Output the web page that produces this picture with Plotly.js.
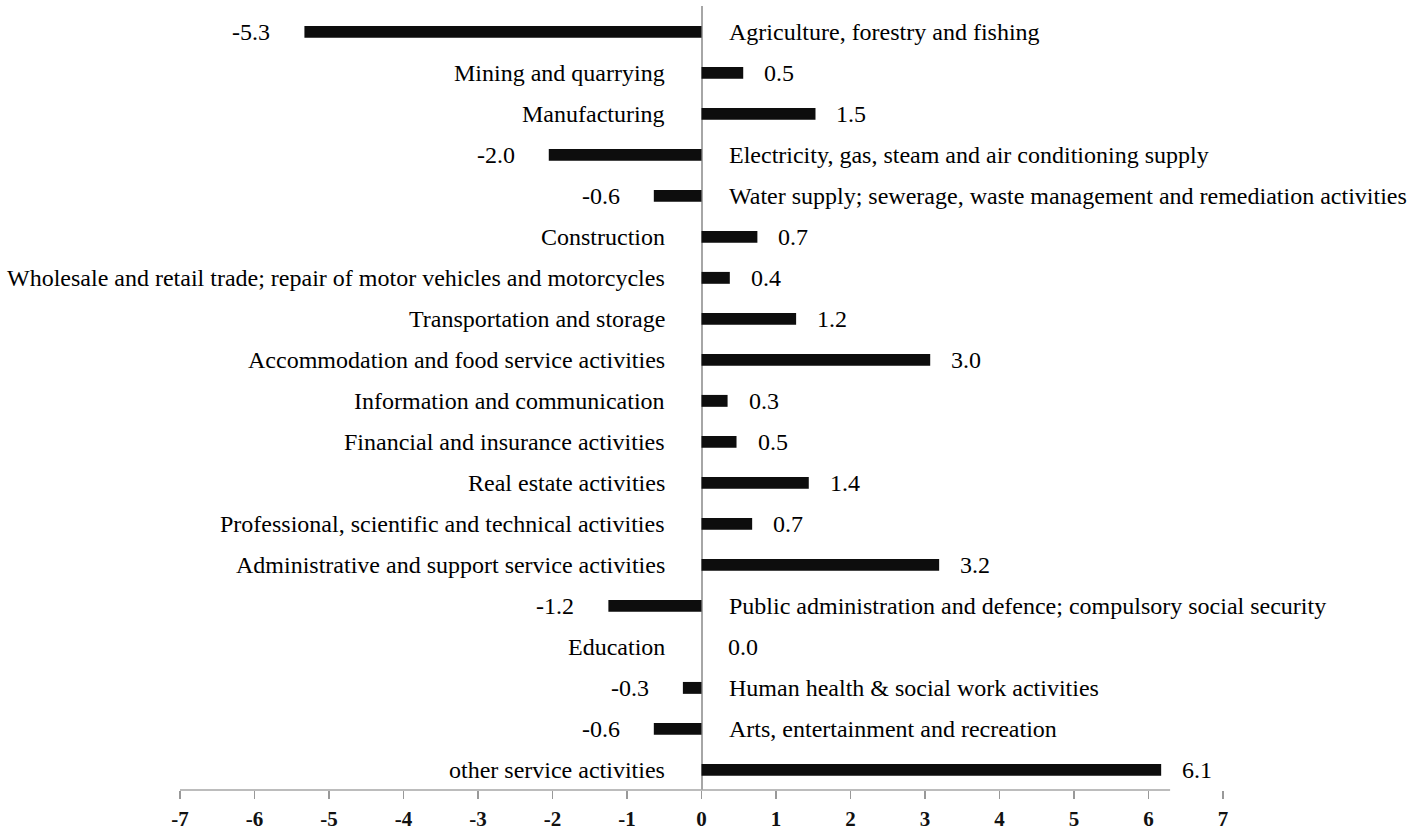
<!DOCTYPE html>
<html>
<head>
<meta charset="utf-8">
<script src="https://cdn.plot.ly/plotly-3.0.1.min.js"></script>
<style>html,body{margin:0;padding:0;background:#fff;}#chart{width:1423px;height:836px;}</style>
</head>
<body>
<div id="chart"></div>
<script>
const categories = [
  "Agriculture, forestry and fishing",
  "Mining and quarrying",
  "Manufacturing",
  "Electricity, gas, steam and air conditioning supply",
  "Water supply; sewerage, waste management and remediation activities",
  "Construction",
  "Wholesale and retail trade; repair of motor vehicles and motorcycles",
  "Transportation and storage",
  "Accommodation and food service activities",
  "Information and communication",
  "Financial and insurance activities",
  "Real estate activities",
  "Professional, scientific and technical activities",
  "Administrative and support service activities",
  "Public administration and defence; compulsory social security",
  "Education",
  "Human health & social work activities",
  "Arts, entertainment and recreation",
  "other service activities"
];
const values = [-5.33, 0.56, 1.53, -2.05, -0.64, 0.75, 0.38, 1.27, 3.07, 0.35, 0.47, 1.44, 0.68, 3.19, -1.25, 0.0, -0.25, -0.64, 6.17];
const valueLabels = ["-5.3","0.5","1.5","-2.0","-0.6","0.7","0.4","1.2","3.0","0.3","0.5","1.4","0.7","3.2","-1.2","0.0","-0.3","-0.6","6.1"];
const tickValues = [-7,-6,-5,-4,-3,-2,-1,0,1,2,3,4,5,6,7];
const axisLineEnd = 6.29;

const textFont = {family: "Liberation Serif, Times New Roman, serif", size: 24, color: "#000"};
const annotations = [];
categories.forEach((c, i) => {
  const v = values[i];
  if (v < 0) {
    annotations.push({x: 0, y: c, xref: "x", yref: "y", text: c, showarrow: false, xanchor: "left", xshift: 25, font: textFont});
    annotations.push({x: v, y: c, xref: "x", yref: "y", text: valueLabels[i], showarrow: false, xanchor: "right", xshift: -32, font: textFont});
  } else {
    annotations.push({x: 0, y: c, xref: "x", yref: "y", text: c, showarrow: false, xanchor: "right", xshift: -35, font: textFont});
    annotations.push({x: v, y: c, xref: "x", yref: "y", text: valueLabels[i], showarrow: false, xanchor: "left", xshift: v === 0 ? 24 : 19, font: textFont});
  }
});

const trace = {
  type: "bar",
  orientation: "h",
  x: values,
  y: categories,
  width: 0.29,
  marker: {color: "#0d0d0d", line: {width: 0}},
  hoverinfo: "skip"
};

const layout = {
  width: 1423,
  height: 836,
  margin: {l: 180, r: 200, t: 6, b: 46, pad: 0},
  paper_bgcolor: "#fff",
  plot_bgcolor: "#fff",
  showlegend: false,
  xaxis: {
    range: [-7, 7],
    tickmode: "array",
    tickvals: tickValues,
    ticktext: tickValues.map(String),
    ticks: "outside",
    ticklen: 8,
    tickwidth: 1.5,
    tickcolor: "#999",
    showgrid: false,
    showline: false,
    zeroline: true,
    zerolinecolor: "#a6a6a6",
    zerolinewidth: 2,
    ticklabelstandoff: 2,
    tickfont: {family: "Liberation Serif, Times New Roman, serif", size: 21, color: "#111", weight: "bold"}
  },
  yaxis: {
    type: "category",
    categoryorder: "array",
    categoryarray: categories,
    range: [18.49, -0.63],
    showticklabels: false,
    ticks: "",
    showgrid: false,
    zeroline: false,
    showline: false
  },
  shapes: [{
    type: "line", xref: "x", yref: "paper", x0: -7, x1: axisLineEnd, y0: 0, y1: 0,
    line: {color: "#a6a6a6", width: 1.5}
  }],
  annotations: annotations
};

Plotly.newPlot("chart", [trace], layout, {staticPlot: true, displayModeBar: false});
</script>
</body>
</html>
